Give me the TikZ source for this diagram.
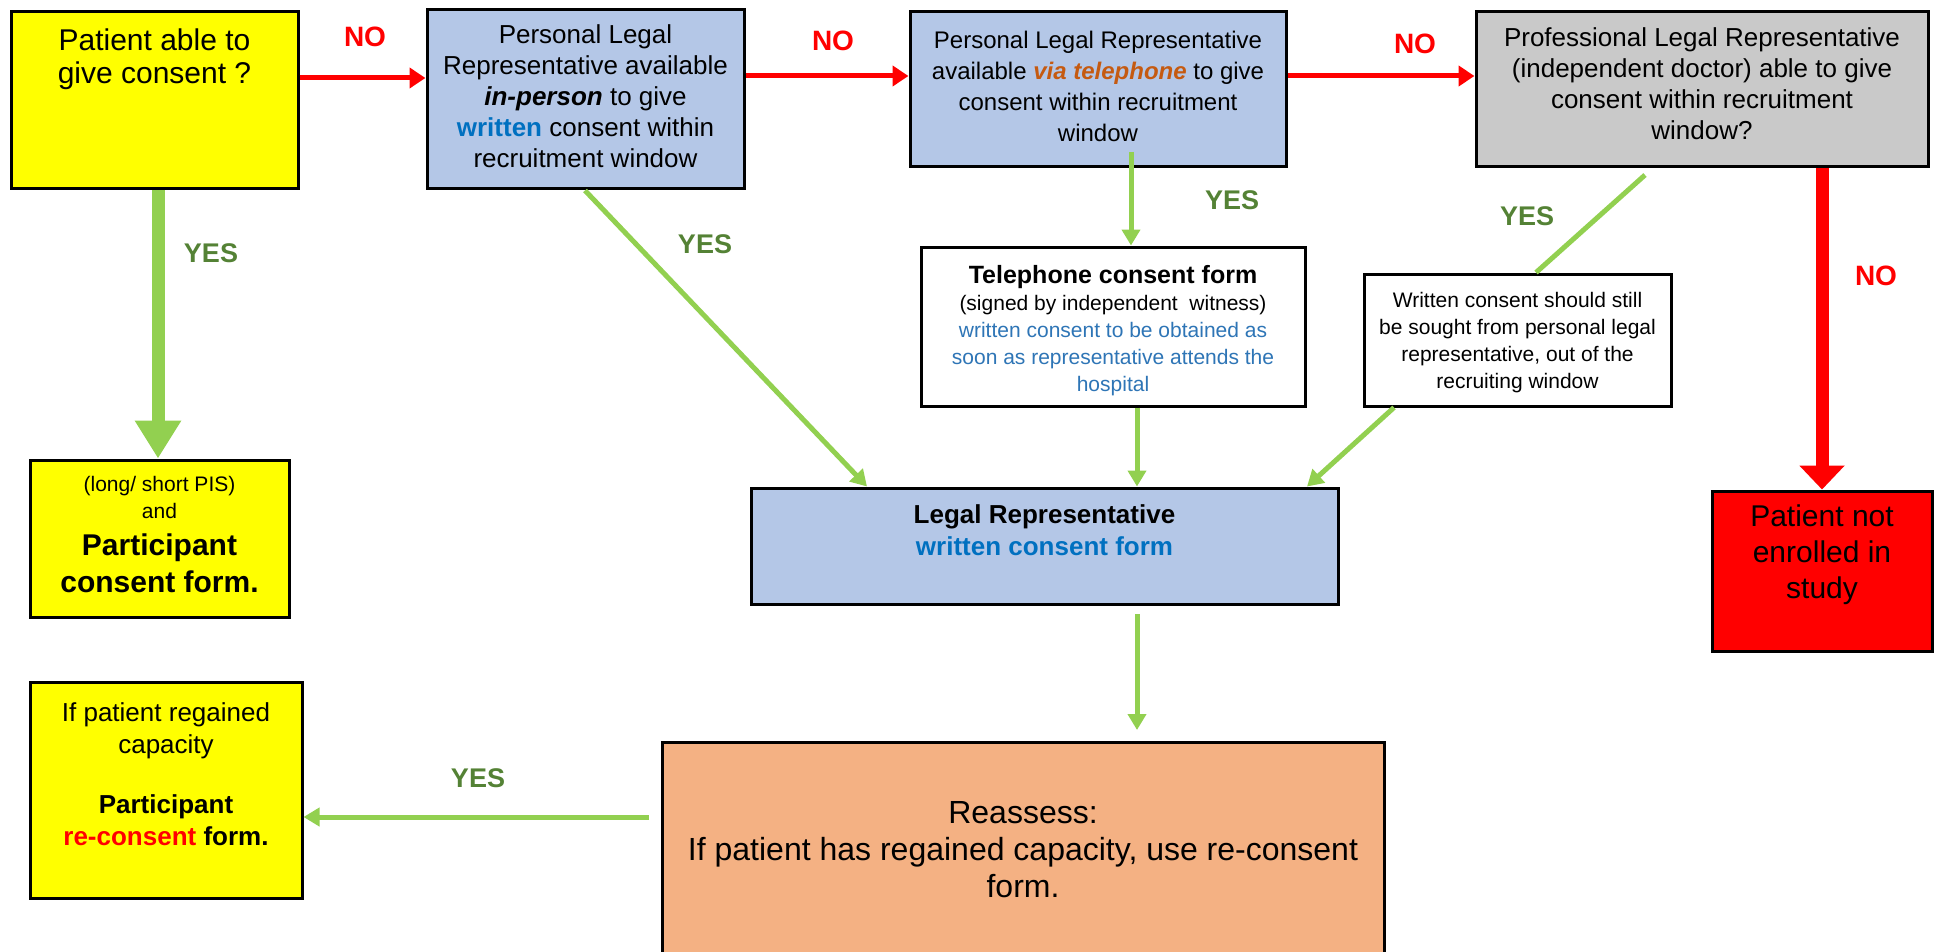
\documentclass[tikz,border=0pt]{standalone}
\usepackage{fontspec}
\setmainfont{Liberation Sans}
\usetikzlibrary{arrows.meta}
\definecolor{cyel}{HTML}{FFFF00}
\definecolor{cblue}{HTML}{B4C7E7}
\definecolor{cgrey}{HTML}{C9C9C9}
\definecolor{cred}{HTML}{FF0000}
\definecolor{corange}{HTML}{F4B183}
\definecolor{cgreen}{HTML}{92D050}
\definecolor{cyes}{HTML}{548235}
\definecolor{ctblue}{HTML}{0070C0}
\definecolor{ctbluetwo}{HTML}{2E75B6}
\definecolor{ctorange}{HTML}{C55A11}
\newcommand\bxtext[4]{\parbox[c][#2pt][t]{#1pt}{\centering\vspace*{#3pt}#4\par}}
\begin{document}
\begin{tikzpicture}[x=1pt,y=-1pt,
  box/.style={draw=black, line width=3pt, inner sep=0pt, rectangle},
  garr/.style={cgreen, line width=5pt, -{Triangle[length=16pt,width=18pt]}},
  gline/.style={cgreen, line width=5pt},
  rarr/.style={cred, line width=5pt, -{Triangle[length=16pt,width=20pt]}},
  yeslab/.style={text=cyes, font=\fontsize{27}{30}\selectfont\bfseries},
  nolab/.style={text=cred, font=\fontsize{28}{30}\selectfont\bfseries}]
\clip (0,0) rectangle (1934,952);
% boxes
\node[box, fill=cyel] (b1) at (154.5,100.5) {\bxtext{287}{177}{17}{\fontsize{30}{33}\selectfont Patient able to\\ give consent ?}};
\node[box, fill=cblue] (b2) at (585.5,99.5) {\bxtext{317}{179}{15}{\fontsize{26}{31}\selectfont Personal Legal\\ Representative available\\ \textbf{\textit{in-person}} to give\\ \textcolor{ctblue}{\textbf{written}} consent within\\ recruitment window}};
\node[box, fill=cblue] (b3) at (1098,89.5) {\bxtext{376}{155}{19}{\fontsize{24}{31}\selectfont Personal Legal Representative\\ available \textcolor{ctorange}{\textbf{\textit{via telephone}}} to give\\ consent within recruitment\\ window}};
\node[box, fill=cgrey] (b4) at (1702,89.5) {\bxtext{452}{155}{16}{\fontsize{26}{31}\selectfont Professional Legal Representative\\ (independent doctor) able to give\\ consent within recruitment\\ window?}};
\node[box, fill=cyel] (b5) at (159.5,538.5) {\bxtext{259}{157}{16}{{\fontsize{21}{27}\selectfont (long/ short PIS)\\ and\par}{\fontsize{30}{37}\selectfont\bfseries Participant\\ consent form.\par}}};
\node[box, fill=white] (b6) at (1113,326.5) {\bxtext{384}{159}{18}{{\fontsize{25}{27}\selectfont\bfseries Telephone consent form\par}{\fontsize{21}{27}\selectfont (signed by independent\ \ witness)\\ \textcolor{ctbluetwo}{written consent to be obtained as\\ soon as representative attends the\\ hospital}\par}}};
\node[box, fill=white] (b7) at (1517.5,340) {\bxtext{307}{132}{18}{\fontsize{21}{27}\selectfont Written consent should still\\ be sought from personal legal\\ representative, out of the\\ recruiting window}};
\node[box, fill=cblue] (b8) at (1044.5,546) {\bxtext{587}{116}{17}{\fontsize{26}{32}\selectfont\bfseries Legal Representative\\ \textcolor{ctblue}{written consent form}}};
\node[box, fill=cred] (b9) at (1822,571) {\bxtext{220}{160}{14}{\fontsize{30}{36}\selectfont Patient not\\ enrolled in\\ study}};
\node[box, fill=cyel] (b10) at (166,790) {\bxtext{272}{216}{21}{\fontsize{26}{32}\selectfont If patient regained\\ capacity\par\vspace{28pt}{\bfseries Participant\\ \textcolor{cred}{re-consent} form.\par}}};
\node[box, fill=corange] (b11) at (1023,853.5) {\bxtext{722}{223}{59}{\fontsize{32}{37}\selectfont Reassess:\\ If patient has regained capacity, use re-consent\\ form.}};
% coordinates for free ends
\coordinate (c3) at (1131,152);
\coordinate (c4) at (1645,175);
\coordinate (e1) at (1137,614);
\coordinate (e2) at (1137,730);
\coordinate (e3) at (649,817);
% red NO arrows
\draw[rarr] (b1.east |- 0,78) -- (b2.west |- 0,78);
\draw[rarr] (b2.east |- 0,76) -- (b3.west |- 0,76);
\draw[rarr] (b3.east |- 0,76) -- (b4.west |- 0,76);
\draw[cred, line width=13pt, -{Triangle[length=24pt,width=44pt]}] (b4.south -| b9.north) -- (b9.north);
% green arrows
\draw[cgreen, line width=13pt, -{Triangle[length=38pt,width=44pt]}] (b1.south -| 158,0) -- (b5.north -| 158,0);
\draw[garr] (b2.south -| 585,0) -- (b8.north -| 867,0);
\draw[garr] (c3) -- (b6.north -| c3);
\draw[gline] (c4) -- (b7.north -| 1536,0);
\draw[garr] (b6.south -| 1137,0) -- (b8.north -| 1137,0);
\draw[garr] (b7.south -| 1394,0) -- (b8.north -| 1307,0);
\draw[garr] (e1) -- (e2);
\draw[garr] (e3) -- (b10.east |- e3);
% labels
\node[nolab] (n1) at (365,37) {NO};
\node[nolab] (n2) at (833,41) {NO};
\node[nolab] (n3) at (1415,44) {NO};
\node[nolab] (n4) at (1876,276) {NO};
\node[yeslab] (y1) at (211,253) {YES};
\node[yeslab] (y2) at (705,244) {YES};
\node[yeslab] (y3) at (1232,200) {YES};
\node[yeslab] (y4) at (1527,216) {YES};
\node[yeslab] (y5) at (478,778) {YES};
\end{tikzpicture}
\end{document}
